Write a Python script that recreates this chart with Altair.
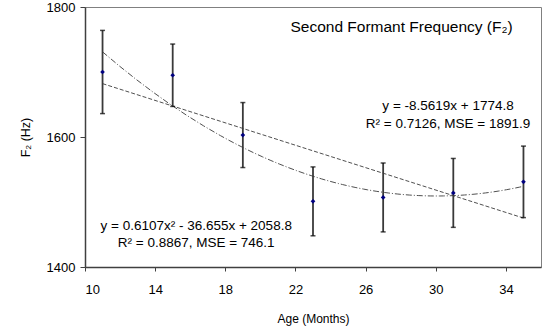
import altair as alt
import pandas as pd

ages = [11, 15, 19, 23, 27, 31, 35]
means = [1700, 1695, 1603, 1501, 1507, 1514, 1531]
errs = [64, 48, 50, 53, 53, 53, 55]

df = pd.DataFrame({"age": ages, "f2": means, "err": errs})
df["lo"] = df["f2"] - df["err"]
df["hi"] = df["f2"] + df["err"]

notes = pd.DataFrame({
    "text": ["Second Formant Frequency (F₂)",
             "y = -8.5619x + 1774.8",
             "R² = 0.7126, MSE = 1891.9",
             "y = 0.6107x² - 36.655x + 2058.8",
             "R² = 0.8867, MSE = 746.1"],
    "x": [28.05, 30.7, 30.7, 16.34, 16.34],
    "y": [1769, 1648, 1620, 1463, 1437],
    "size": [15.5, 13.5, 13.5, 13.5, 13.5],
})

FONT = "Liberation Sans"
xs = alt.Scale(domain=[10, 36], nice=False, zero=False)
ys = alt.Scale(domain=[1400, 1800], nice=False, zero=False)

base = alt.Chart(df)

xenc = alt.X("age:Q", scale=xs, title="Age (Months)",
             axis=alt.Axis(values=[10, 14, 18, 22, 26, 30, 34], grid=False,
                           tickSize=4, labelPadding=12, titlePadding=17,
                           labelFontSize=13, titleFontSize=12, titleFontWeight="normal",
                           domainColor="#404040", tickColor="#404040", domainWidth=1.5,
                           labelColor="#000", titleColor="#000", labelFont=FONT, titleFont=FONT))
yenc = alt.Y("f2:Q", scale=ys, title="F₂ (Hz)",
             axis=alt.Axis(values=[1400, 1600, 1800], grid=False, tickSize=5, format="d",
                           labelPadding=5, titlePadding=14,
                           labelFontSize=13, titleFontSize=12.5, titleFontWeight="normal",
                           domainColor="#404040", tickColor="#404040", domainWidth=1.5,
                           labelColor="#000", titleColor="#000", labelFont=FONT, titleFont=FONT))

lin = base.transform_regression("age", "f2", method="linear", extent=[11, 35]).mark_line(
    color="#505050", strokeWidth=1, strokeDash=[4, 2]).encode(x=xenc, y=yenc)
quad = base.transform_regression("age", "f2", method="poly", order=2, extent=[11, 35]).mark_line(
    color="#505050", strokeWidth=1, strokeDash=[6, 2, 1, 2]).encode(x=xenc, y=yenc)

bars = base.mark_rule(color="#3a3a3a", strokeWidth=1.8).encode(
    x=alt.X("age:Q", scale=xs), y=alt.Y("lo:Q", scale=ys), y2="hi:Q")
cap_lo = base.mark_tick(orient="horizontal", color="#000", size=5, thickness=1.5).encode(
    x=alt.X("age:Q", scale=xs), y=alt.Y("lo:Q", scale=ys))
cap_hi = base.mark_tick(orient="horizontal", color="#000", size=5, thickness=1.5).encode(
    x=alt.X("age:Q", scale=xs), y=alt.Y("hi:Q", scale=ys))
pts = base.mark_point(shape="diamond", filled=True, color="#000080", size=22, opacity=1).encode(
    x=alt.X("age:Q", scale=xs), y=alt.Y("f2:Q", scale=ys))

txt = alt.Chart(notes).mark_text(font=FONT, color="#000", align="center", baseline="middle").encode(
    x=alt.X("x:Q", scale=xs), y=alt.Y("y:Q", scale=ys), text="text:N",
    size=alt.Size("size:Q", scale=None, legend=None))

chart = alt.layer(lin, quad, bars, cap_lo, cap_hi, pts, txt).properties(
    width=456, height=260,
    autosize=alt.AutoSizeParams(type="none"),
    padding={"left": 85, "top": 7, "right": 4, "bottom": 66},
    background="white",
).configure_view(stroke="#808080", strokeWidth=1)

chart.save("out.html", embed_options={"renderer": "svg", "actions": False})
